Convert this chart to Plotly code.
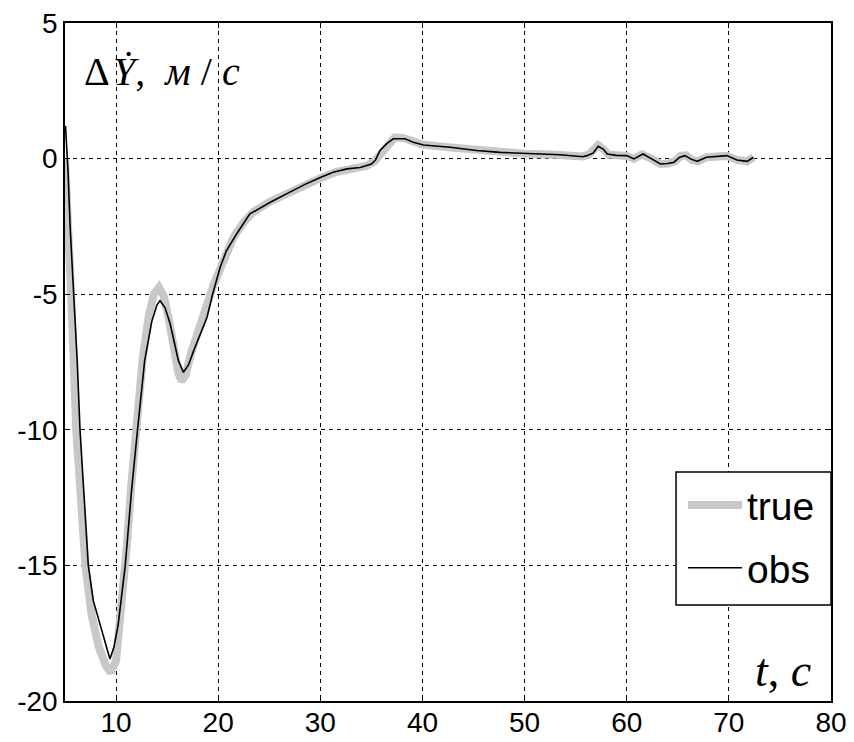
import plotly.graph_objects as go

# time axis and values
t_true = [5.0, 5.3, 5.6, 6.1, 6.6, 7.0, 7.6, 8.3, 9.0, 9.5,
          10.0, 10.5, 11.0, 11.5, 12.0, 12.6, 13.2, 13.7, 14.2, 14.7,
          15.2, 15.7, 16.1, 16.4, 16.8, 17.4, 18.0, 18.8, 19.6, 20.5,
          21.5, 22.5, 23.5, 25.0, 26.5, 28.0, 30.0, 31.5, 33.0, 34.5,
          35.3, 36.0, 36.7, 37.3, 38.2, 39.0, 40.0, 42.5, 45.0, 47.5,
          50.0, 53.0, 55.7, 56.3, 56.8, 57.2, 57.7, 58.2, 59.0, 60.0,
          60.7, 61.5, 62.4, 63.3, 64.0, 64.7, 65.3, 65.8, 66.4, 67.0,
          67.8, 68.8, 69.8, 70.8, 71.8, 72.4]
y_true = [0.0, -2.0, -5.0, -10.0, -13.0, -15.0, -16.8, -18.0, -18.7, -18.95,
          -18.5, -16.8, -14.5, -12.0, -9.6, -7.4, -5.8, -5.0, -4.75, -5.1,
          -6.0, -7.2, -7.9, -8.2, -8.0, -7.1, -6.3, -5.5, -4.6, -3.7,
          -2.9, -2.35, -1.95, -1.6, -1.32, -1.05, -0.72, -0.5, -0.38, -0.27,
          -0.1, 0.25, 0.6, 0.78, 0.75, 0.62, 0.52, 0.42, 0.32, 0.24,
          0.18, 0.14, 0.08, 0.15, 0.4, 0.5, 0.35, 0.15, 0.12, 0.1,
          0.0, 0.15, 0.0, -0.2, -0.18, -0.1, 0.1, 0.12, -0.05, -0.1,
          0.05, 0.1, 0.1, -0.05, -0.1, 0.05]

t_obs = [5.05, 5.15, 5.3, 5.5, 5.9, 6.2, 6.47, 6.9, 7.28, 7.77,
         8.6, 9.0, 9.4, 9.8, 10.2, 10.9, 11.5, 12.1, 12.8, 13.5,
         14.0, 14.3, 14.8, 15.3, 16.1, 16.6, 17.1, 17.6, 18.2, 18.9,
         19.45, 20.2, 20.8, 21.8, 23.1, 25.1, 27.3, 28.5, 30.0, 31.25,
         32.6, 33.9, 35.0, 35.4, 35.85, 36.5, 37.15, 38.3, 39.1, 40.1,
         42.7, 45.3, 47.6, 50.8, 53.5, 55.7, 56.1, 56.7, 57.2, 57.7,
         58.1, 59.0, 60.0, 60.7, 61.6, 62.4, 63.3, 64.0, 64.6, 65.2,
         65.7, 66.3, 66.9, 67.8, 68.8, 69.8, 70.8, 71.8, 72.4]
y_obs = [1.2, 0.6, -0.5, -2.5, -5.2, -7.5, -10.0, -12.6, -15.0, -16.3,
         -17.4, -18.0, -18.45, -18.0, -17.2, -15.0, -12.3, -10.0, -7.45, -6.0,
         -5.4, -5.24, -5.5, -6.1, -7.45, -7.88, -7.6, -7.08, -6.5, -5.86,
         -5.0, -4.0, -3.4, -2.78, -2.04, -1.61, -1.18, -0.95, -0.7, -0.5,
         -0.38, -0.33, -0.2, -0.05, 0.3, 0.55, 0.73, 0.73, 0.6, 0.5,
         0.42, 0.3, 0.23, 0.17, 0.14, 0.07, 0.11, 0.2, 0.45, 0.35,
         0.17, 0.12, 0.11, -0.01, 0.17, 0.0, -0.2, -0.18, -0.14, 0.05,
         0.11, -0.02, -0.1, 0.05, 0.08, 0.11, -0.05, -0.1, 0.05]

x_ticks = [10, 20, 30, 40, 50, 60, 70, 80]
y_ticks = [-20, -15, -10, -5, 0, 5]
y_tick_text = ["-20", "-15", "-10", "-5", "0", "5"]

fig = go.Figure()
fig.add_trace(go.Scatter(x=t_true, y=y_true, mode="lines", name="true",
                         legendgroup="a",
                         line=dict(color="#c8c8c8", width=8)))
fig.add_trace(go.Scatter(x=t_obs, y=y_obs, mode="lines", name="obs",
                         legendgroup="b",
                         line=dict(color="black", width=1.6)))

axis_common = dict(showline=True, linecolor="black", linewidth=1.5, mirror="ticks",
                   showgrid=True, gridcolor="black", gridwidth=1, griddash="4px,4px",
                   zeroline=False, ticks="inside", ticklen=5, tickcolor="black",
                   automargin=False,
                   tickfont=dict(family="Liberation Sans, Arial", size=28, color="black"))

fig.update_xaxes(range=[5, 80], tickvals=x_ticks, ticklabelstandoff=-4, **axis_common)
fig.update_yaxes(range=[-20, 5], tickvals=y_ticks, ticktext=y_tick_text, **axis_common)

fig.update_layout(
    width=854, height=742,
    margin=dict(l=65, r=23, t=23, b=41),
    paper_bgcolor="white", plot_bgcolor="white",
    showlegend=True,
    legend=dict(x=0.8068, xanchor="left", y=0.336, yanchor="top",
                bgcolor="rgba(0,0,0,0)", borderwidth=0,
                font=dict(family="Liberation Sans, Arial", size=39, color="black"),
                itemwidth=54, tracegroupgap=9, traceorder="grouped"),
    shapes=[
        dict(type="rect", xref="paper", yref="paper",
             x0=0.7977, x1=1.0, y0=0.1416, y1=0.3378,
             line=dict(color="black", width=1.5), fillcolor="white", layer="above"),
    ],
    annotations=[
        dict(text="Δ\u200a<i>Ẏ</i>,\u00a0\u00a0<i>м</i>\u00a0/\u00a0<i>с</i>", x=0.022, y=0.928,
             xref="paper", yref="paper",
             xanchor="left", yanchor="middle", showarrow=False,
             font=dict(family="Liberation Serif, Times New Roman", size=40, color="black")),
        dict(text="<i>t</i>,\u00a0<i>c</i>", x=0.977, y=0.045, xref="paper", yref="paper",
             xanchor="right", yanchor="middle", showarrow=False,
             font=dict(family="Liberation Serif, Times New Roman", size=46, color="black")),
    ],
)

fig.write_html("out.html")
